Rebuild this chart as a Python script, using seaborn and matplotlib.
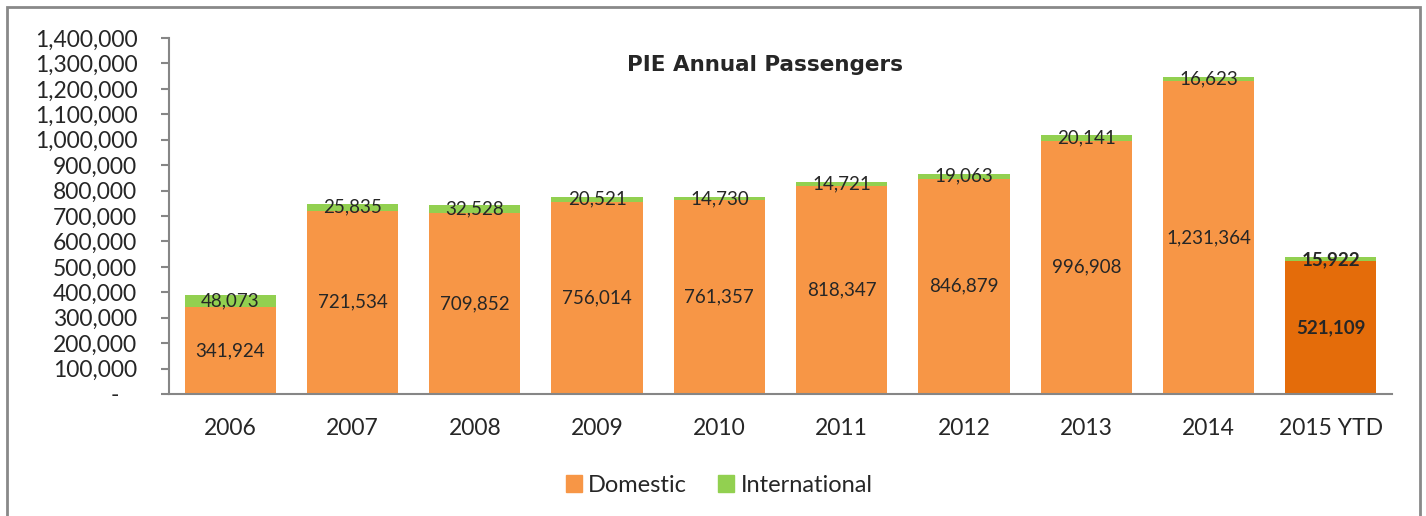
import pandas as pd
import matplotlib.pyplot as plt
import matplotlib.patches as mpatches
import seaborn as sns

years = ['2006', '2007', '2008', '2009', '2010', '2011', '2012', '2013', '2014', '2015 YTD']
domestic = [341924, 721534, 709852, 756014, 761357, 818347, 846879, 996908, 1231364, 521109]
international = [48073, 25835, 32528, 20521, 14730, 14721, 19063, 20141, 16623, 15922]

df = pd.DataFrame({'Year': years, 'Domestic': domestic, 'International': international})

orange = '#F79646'
dark_orange = '#E46C0A'
green = '#92D050'
grey = '#868686'

sns.set_style('white')
plt.rcParams['font.family'] = ['Lato', 'DejaVu Sans']

fig = plt.figure(figsize=(14.26, 5.16), dpi=100)
ax = fig.add_axes([169 / 1426, 1 - 394 / 516, (1392 - 169) / 1426, (394 - 38) / 516])

# outer chart border
fig.patches.append(mpatches.Rectangle((7 / 1426, -0.05), (1420 - 7) / 1426, 1.05 - 7 / 516,
                                      transform=fig.transFigure, fill=False,
                                      edgecolor='#898989', linewidth=2))

dom_colors = [orange] * 9 + [dark_orange]
sns.barplot(data=df, x='Year', y='Domestic', hue='Year', palette=dom_colors,
            width=0.745, saturation=1, legend=False, ax=ax, linewidth=0)
sns.barplot(data=df, x='Year', y='International', color=green, bottom=df['Domestic'],
            width=0.745, saturation=1, ax=ax, linewidth=0)

for i, (d, n) in enumerate(zip(domestic, international)):
    bold = 'bold' if i == len(years) - 1 else 'normal'
    ax.text(i, d / 2, f'{d:,}', ha='center', va='center', fontsize=13.5, fontweight=bold)
    ax.text(i, d + n / 2, f'{n:,}', ha='center', va='center', fontsize=13.5, fontweight=bold)

ax.set_xlim(-0.5, len(years) - 0.5)
ax.set_ylim(0, 1400000)
ax.set_yticks(range(0, 1400001, 100000))
ax.set_yticklabels(['-   '] + [f'{v:,}' for v in range(100000, 1400001, 100000)], fontsize=16.5)
ax.set_xticks(range(len(years)))
ax.set_xticklabels(years, fontsize=16.5)
ax.set_xticks([i - 0.5 for i in range(len(years) + 1)], minor=True)
ax.tick_params(axis='x', which='major', length=0, pad=17)
ax.tick_params(axis='x', which='minor', length=6, color=grey, width=1.5, direction='out')
ax.tick_params(axis='y', length=5.8, color=grey, width=1.5, direction='out', pad=17, left=True)
ax.set_xlabel('')
ax.set_ylabel('')

sns.despine(ax=ax)
for side in ['left', 'bottom']:
    ax.spines[side].set_color(grey)
    ax.spines[side].set_linewidth(1.5)

fig.text(765 / 1426, 1 - 65 / 516, 'PIE Annual Passengers', ha='center', va='center',
         fontsize=15.5, fontweight='bold', family='DejaVu Sans')

handles = [mpatches.Patch(color=orange, label='Domestic'),
           mpatches.Patch(color=green, label='International')]
fig.legend(handles=handles, loc='center', bbox_to_anchor=(719 / 1426, 1 - 485 / 516),
           ncol=2, frameon=False, fontsize=17, handlelength=0.7, handleheight=0.7,
           handletextpad=0.26, columnspacing=1.3)

fig.savefig('out.png', dpi=100, facecolor='white')
